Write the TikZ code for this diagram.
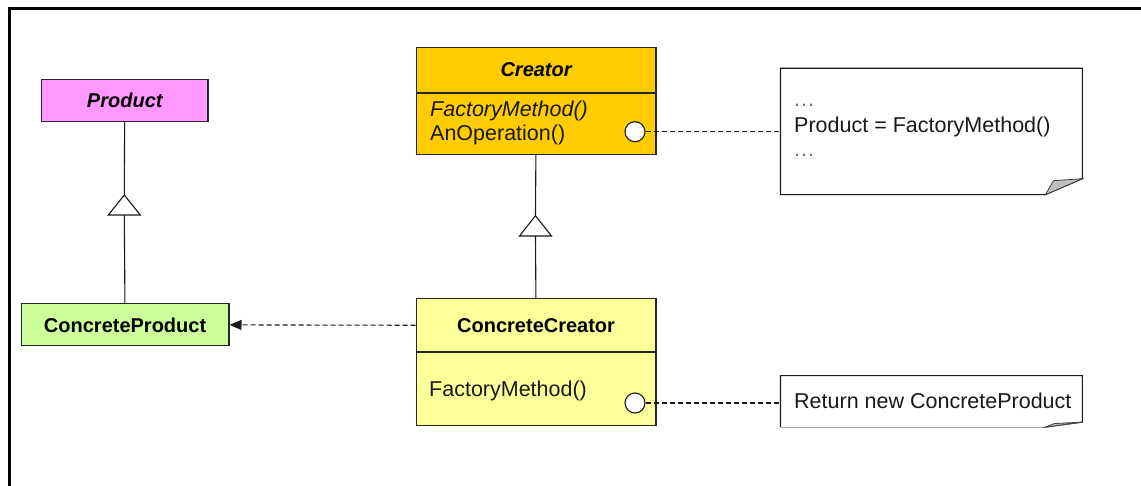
\documentclass[tikz,border=0pt]{standalone}
\usepackage{fontspec}
\setmainfont{Liberation Sans}
\usetikzlibrary{arrows.meta,calc}
\definecolor{prodpink}{HTML}{FF99FF}
\definecolor{cprodgreen}{HTML}{CCFF99}
\definecolor{creatorgold}{HTML}{FFCC00}
\definecolor{ccyellow}{HTML}{FFFF99}
\newcommand\ttlfont{\fontsize{20}{24}\selectfont\bfseries}
\newcommand\bodyfont{\fontsize{21.5}{25}\selectfont}
\begin{document}
\begin{tikzpicture}[x=1pt,y=-1pt,
  box/.style={draw=black!85,line width=1.2pt,rectangle,inner sep=0pt,anchor=north west},
  txt/.style={font=\bodyfont,inner sep=0pt,anchor=base west,text=black!90},
  link/.style={draw=black!90,line width=1.1pt},
  dep/.style={link,dash pattern=on 5pt off 3pt},
  port/.style={circle,draw=black!90,fill=white,line width=1.1pt,minimum size=20pt,inner sep=0pt},
  notebox/.style={rectangle,draw=none,inner sep=0pt,anchor=north west},
  notebd/.style={draw=black!90,line width=1.1pt,fill=white},
  flap/.style={draw=black!75,line width=0.8pt,fill=black!25},
  gen/.style={draw=black!90,line width=1.1pt,fill=white}]
\useasboundingbox (0,0) rectangle (1141,486);
% frame
\draw[line width=3pt,line cap=rect] (9,490) -- (9,9) -- (1145,9);

% classes
\node[box,fill=prodpink,minimum width=166.3pt,minimum height=41.7pt,font=\ttlfont\itshape] (product) at (41,79.3) {Product};
\node[box,fill=cprodgreen,minimum width=207.6pt,minimum height=42pt,font=\ttlfont] (cproduct) at (20.7,303.3) {ConcreteProduct};

\node[box,fill=creatorgold,minimum width=239.6pt,minimum height=44.4pt,font=\ttlfont\itshape] (crh) at (415.7,47.3) {Creator};
\node[box,fill=creatorgold,minimum width=239.6pt,minimum height=61pt] (crb) at (crh.south west) {};
\node[txt,font=\bodyfont\itshape] (crm1) at (430,117) {FactoryMethod()};
\node[txt] (crm2) at (430,141) {AnOperation()};

\node[box,fill=ccyellow,minimum width=239.6pt,minimum height=52.7pt,font=\ttlfont] (cch) at (415.7,298.3) {ConcreteCreator};
\node[box,fill=ccyellow,minimum width=239.6pt,minimum height=72.3pt] (ccb) at (cch.south west) {};
\node[txt] (ccm1) at (429,396) {FactoryMethod()};

% ports
\node[port] (p1) at (635,131.7) {};
\node[port] (p2) at (635,403) {};

% notes
\node[notebox,minimum width=301.5pt,minimum height=126pt] (n1) at (780.5,68.3) {};
\draw[notebd] (n1.north west) -- (n1.north east) -- ([yshift=16pt]n1.south east) -- ([xshift=-37pt]n1.south east) -- (n1.south west) -- cycle;
\draw[flap] ([xshift=-37pt]n1.south east) -- ([xshift=-29pt,yshift=14pt]n1.south east) -- ([yshift=16pt]n1.south east) -- cycle;
\node[txt,text=black!55] (n1a) at (794,107) {.\kern1pt.\kern1pt.};
\node[txt] (n1b) at (794,133) {Product = FactoryMethod()};
\node[txt,text=black!55] (n1c) at (794,157) {.\kern1pt.\kern1pt.};

\node[notebox,minimum width=301.5pt,minimum height=51pt] (n2) at (780.5,375.7) {};
\fill[white] (n2.north west) rectangle (n2.south east);
\draw[notebd,fill=none] (n2.south west) -- (n2.north west) -- (n2.north east) -- ([yshift=5pt]n2.south east) -- ([xshift=-37pt]n2.south east);
\draw[draw=black!35,line width=0.9pt] ([xshift=-37pt]n2.south east) -- (n2.south west);
\draw[flap] ([xshift=-37pt]n2.south east) -- ([xshift=-28pt,yshift=3.5pt]n2.south east) -- ([yshift=5pt]n2.south east) -- cycle;
\node[txt] (n2a) at (794,408) {Return new ConcreteProduct};

% generalization: Product
\coordinate (g1apex) at (124.3,195);
\coordinate (g1base) at (124.3,215);
\draw[link] (product) -- (g1apex);
\draw[link] (g1base) -- (cproduct);
\draw[gen] (g1apex) -- ++(-16,20) -- ++(32,0) -- cycle;

% generalization: Creator
\coordinate (g2apex) at (535.5,215.7);
\coordinate (g2base) at (535.5,236);
\draw[link] (crb) -- (g2apex);
\draw[link] (g2base) -- (cch);
\draw[gen] (g2apex) -- ++(-16,20.3) -- ++(32,0) -- cycle;

% dependency arrow
\draw[dep,-{Triangle[length=12pt,width=10pt]}] (cch.west) -- (cproduct.east);

% note links
\draw[dep] (p1.east) -- (p1.east -| n1.west);
\draw[dep] (p2.east) -- (p2.east -| n2.west);
\end{tikzpicture}
\end{document}
